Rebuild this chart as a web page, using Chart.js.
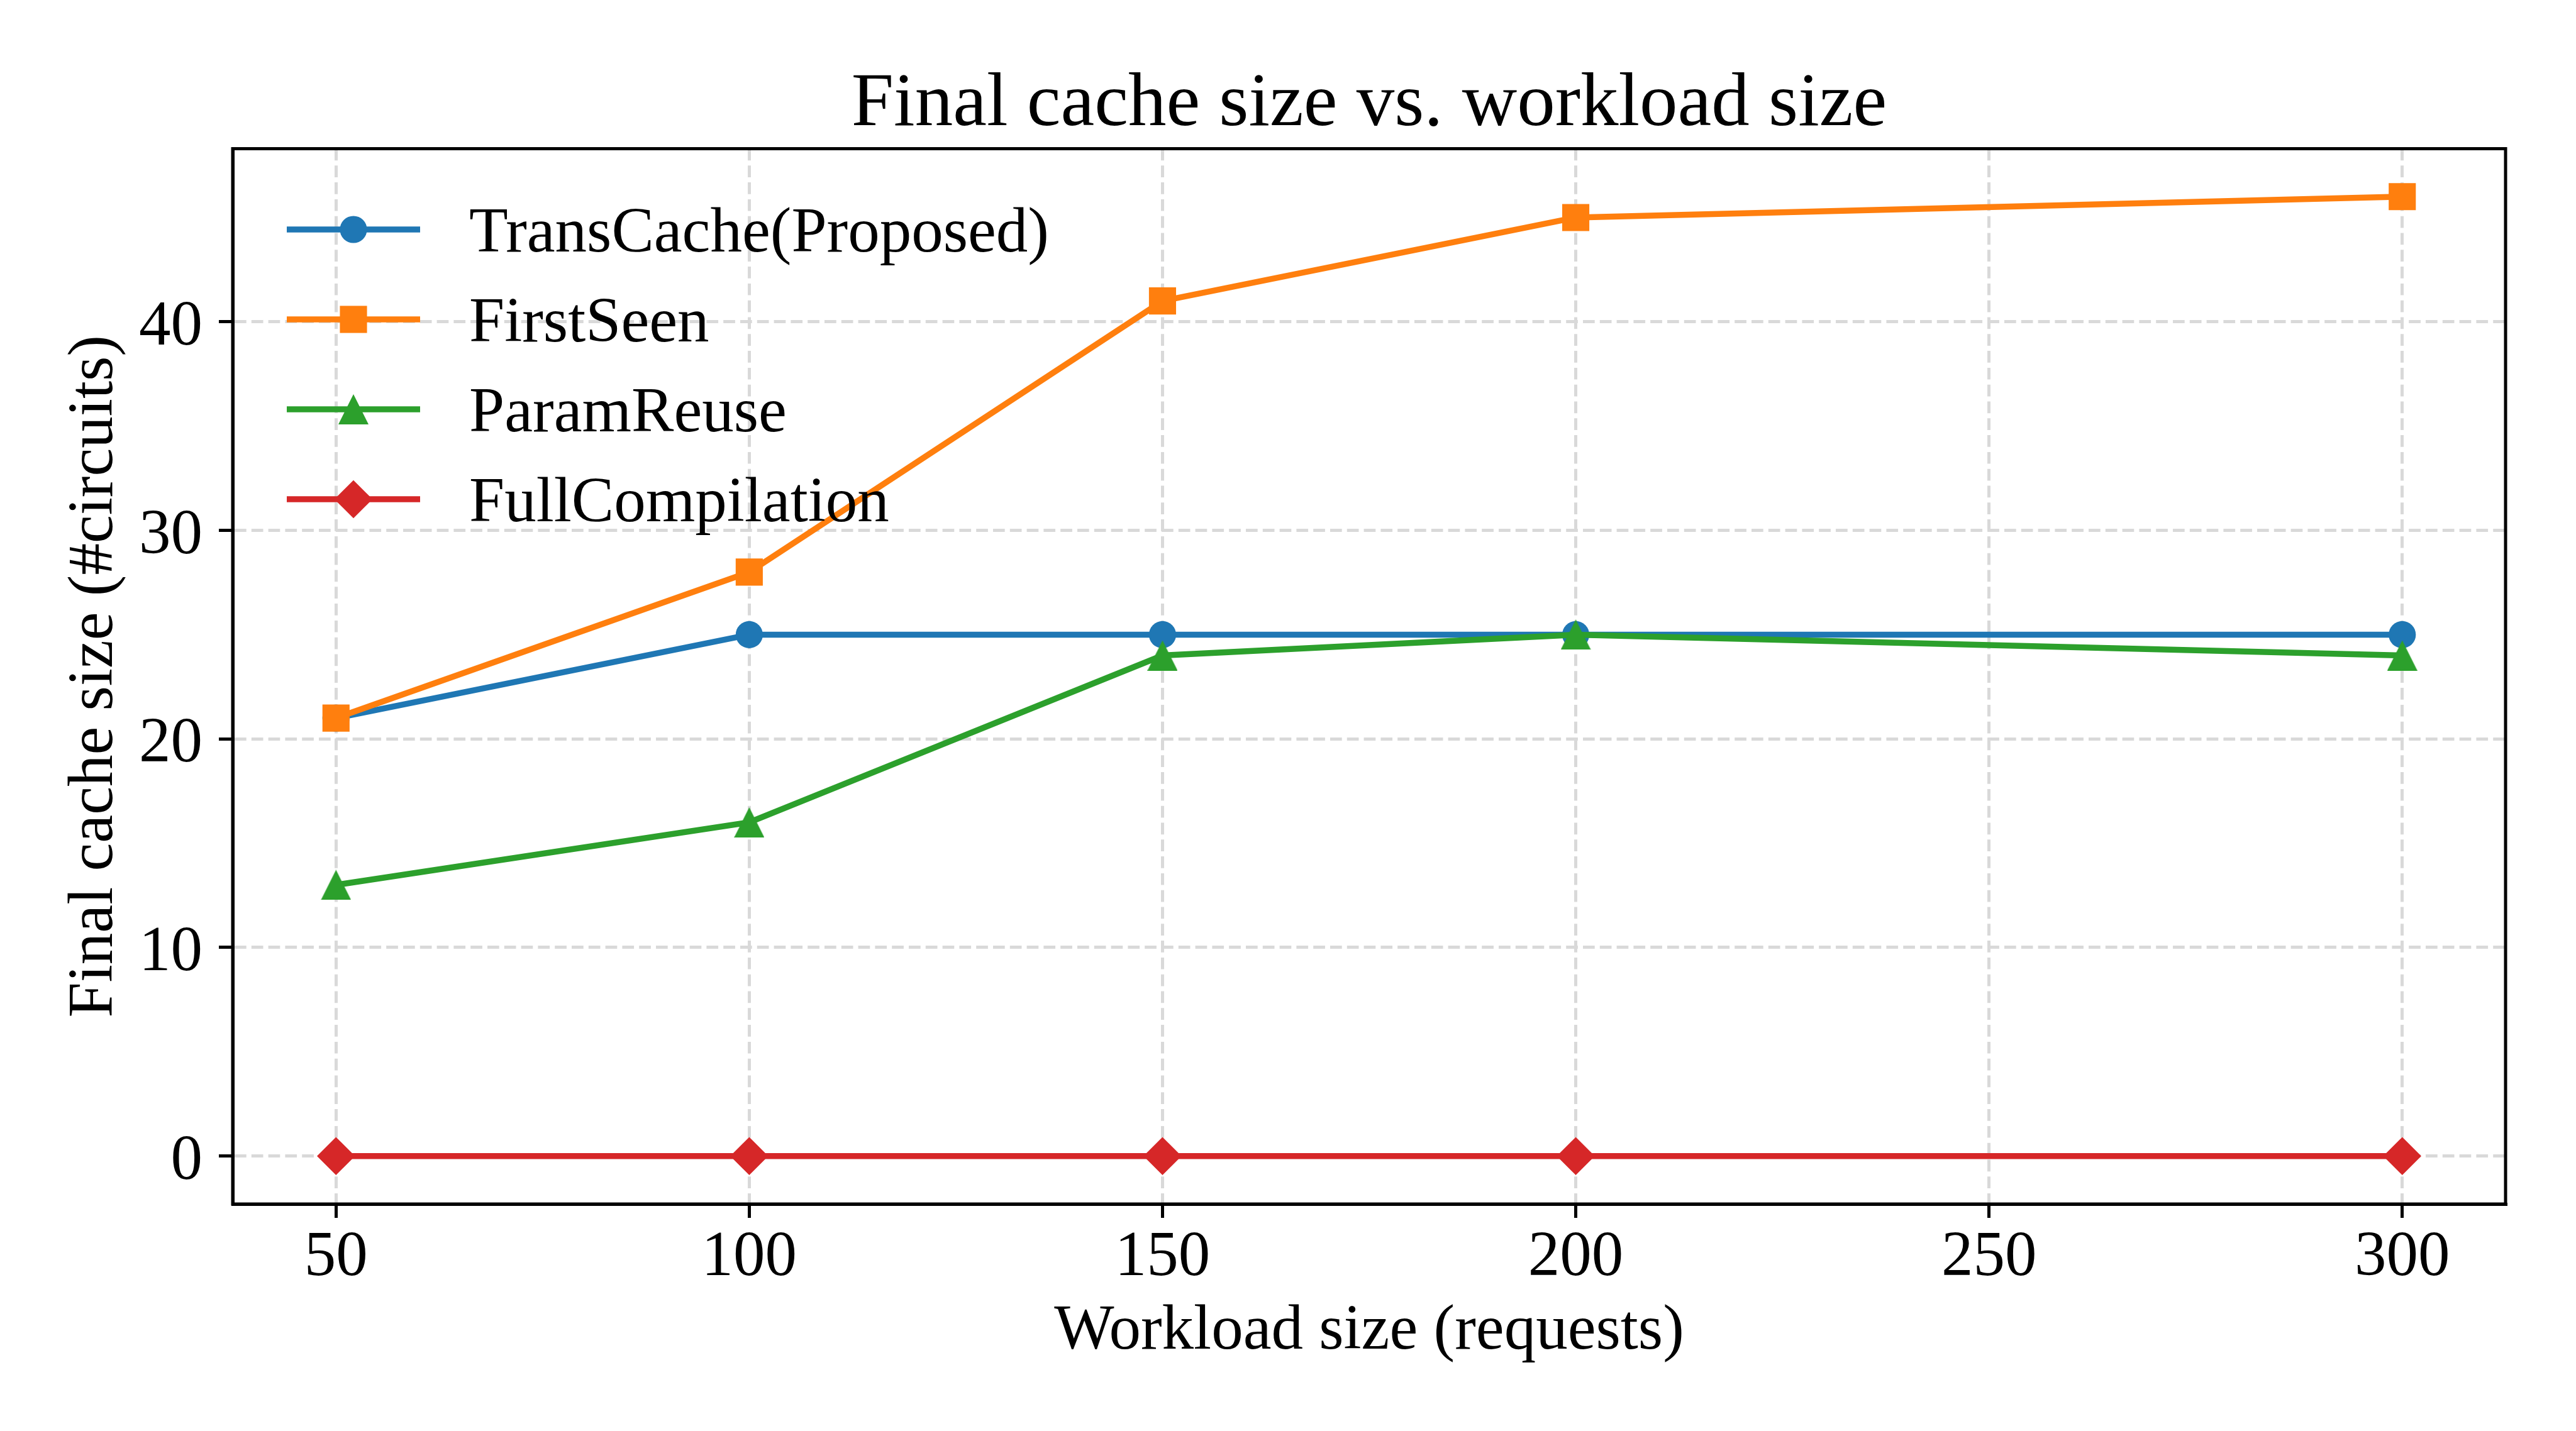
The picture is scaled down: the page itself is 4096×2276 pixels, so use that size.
<!DOCTYPE html>
<html>
<head>
<meta charset="utf-8">
<script src="https://cdn.jsdelivr.net/npm/chart.js@4/dist/chart.umd.min.js"></script>
<style>
  html, body { margin: 0; padding: 0; background: #ffffff; }
  #wrap { width: 4096px; height: 2276px; }
</style>
</head>
<body>
<div id="wrap"><canvas id="c" width="4096" height="2276"></canvas></div>
<script>
// ---------------- data ----------------
const workloadSizes   = [50, 100, 150, 200, 300];
const transCache      = [21, 25, 25, 25, 25];
const firstSeen       = [21, 28, 41, 45, 46];
const paramReuse      = [13, 16, 24, 25, 24];
const fullCompilation = [0, 0, 0, 0, 0];
const seriesNames     = ['TransCache(Proposed)', 'FirstSeen', 'ParamReuse', 'FullCompilation'];
const xTicks = [50, 100, 150, 200, 250, 300];
const yTicks = [0, 10, 20, 30, 40];
const titleText  = 'Final cache size vs. workload size';
const xLabelText = 'Workload size (requests)';
const yLabelText = 'Final cache size (#circuits)';

// ---------------- style ----------------
const FONT = "'Liberation Serif', 'Times New Roman', serif";
const COLORS = ['#1f77b4', '#ff7f0e', '#2ca02c', '#d62728'];
const LINE_W = 9.5;
const TITLE_PX = 121, TEXT_PX = 101, LH = 1.2;

// measure where canvas 'middle' sits relative to the alphabetic baseline
const mctx = document.createElement('canvas').getContext('2d');
function midAboveBaseline(px) {
  mctx.font = px + 'px ' + FONT;
  mctx.textBaseline = 'alphabetic';
  const a = mctx.measureText('Hg').fontBoundingBoxAscent;
  mctx.textBaseline = 'middle';
  const b = mctx.measureText('Hg').fontBoundingBoxAscent;
  const v = a - b;
  return (isFinite(v) && v > 0) ? v : 0.3375 * px;
}
function inkCenterBelowMiddle(px, s) {
  mctx.font = px + 'px ' + FONT;
  mctx.textBaseline = 'middle';
  const m = mctx.measureText(s);
  const v = (m.actualBoundingBoxDescent - m.actualBoundingBoxAscent) / 2;
  return isFinite(v) ? v : 0;
}
const midT = midAboveBaseline(TITLE_PX);
const midL = midAboveBaseline(TEXT_PX);

// layout targets (px in the 4096x2276 window)
const AREA_TOP = 236.5, AREA_BOTTOM = 1915, AREA_LEFT = 370, RIGHT_PAD = 112;
const TICK_LEN = 22;
const titleBaseline = 199.3;
const xTickBaseline = 2028;
const xLabelBaseline = 2145;
const yLabelBaselineX = 178;

const titlePadTop = titleBaseline - midT - TITLE_PX * LH / 2;
const titlePadBottom = AREA_TOP - titlePadTop - TITLE_PX * LH;
const xTickPad = xTickBaseline - midL - TEXT_PX * LH / 2 - (AREA_BOTTOM + TICK_LEN);
const xTitlePadBottom = 2276 - (xLabelBaseline - midL) - TEXT_PX * LH / 2;
const yTitlePadTop = (yLabelBaselineX - midL) - TEXT_PX * LH / 2;
const yTickLabelOffset = 2.7 - inkCenterBelowMiddle(TEXT_PX, '40');

// triangle marker as a canvas (centered like matplotlib '^')
function makeTriangle(size, color) {
  const c = document.createElement('canvas');
  c.width = size; c.height = size;
  const g = c.getContext('2d');
  g.fillStyle = color;
  g.beginPath();
  g.moveTo(size / 2, 0);
  g.lineTo(size, size);
  g.lineTo(0, size);
  g.closePath();
  g.fill();
  return c;
}
const triMarker = makeTriangle(48, COLORS[2]);

const pointStyles = ['circle', 'rect', triMarker, 'rectRot'];
const pointRadii  = [21.6, 30.5, 24, 30.3];

const seriesValues = [transCache, firstSeen, paramReuse, fullCompilation];

const datasets = seriesValues.map((vals, i) => ({
  label: seriesNames[i],
  data: workloadSizes.map((x, k) => ({ x: x, y: vals[k] })),
  borderColor: COLORS[i],
  backgroundColor: COLORS[i],
  pointBackgroundColor: COLORS[i],
  pointBorderColor: COLORS[i],
  pointBorderWidth: 0,
  borderWidth: LINE_W,
  pointStyle: pointStyles[i],
  pointRadius: pointRadii[i],
  fill: false,
  tension: 0,
  order: 3 - i,
  clip: false
}));

// ---------------- plugins ----------------
function drawMarker(ctx, style, r, x, y, color) {
  ctx.save();
  ctx.fillStyle = color;
  if (style && typeof style === 'object') {
    ctx.drawImage(style, x - style.width / 2, y - style.height / 2);
  } else if (style === 'circle') {
    ctx.beginPath(); ctx.arc(x, y, r, 0, Math.PI * 2); ctx.fill();
  } else if (style === 'rect') {
    const s = r * Math.SQRT1_2;
    ctx.fillRect(x - s, y - s, 2 * s, 2 * s);
  } else if (style === 'rectRot') {
    ctx.beginPath();
    ctx.moveTo(x - r, y); ctx.lineTo(x, y - r); ctx.lineTo(x + r, y); ctx.lineTo(x, y + r);
    ctx.closePath(); ctx.fill();
  }
  ctx.restore();
}

const legendPlugin = {
  id: 'mplLegend',
  afterDatasetsDraw(chart) {
    const ctx = chart.ctx;
    const rowY0 = 365, rowStep = 143;
    const lineX1 = 456, lineX2 = 668, markX = 562, textX = 746;
    chart.data.datasets.forEach((ds, i) => {
      const y = rowY0 + i * rowStep;
      ctx.save();
      ctx.strokeStyle = ds.borderColor;
      ctx.lineWidth = ds.borderWidth;
      ctx.lineCap = 'butt';
      ctx.beginPath(); ctx.moveTo(lineX1, y); ctx.lineTo(lineX2, y); ctx.stroke();
      ctx.restore();
      drawMarker(ctx, ds.pointStyle, ds.pointRadius, markX, y, ds.pointBackgroundColor);
      ctx.save();
      ctx.fillStyle = '#000000';
      ctx.font = TEXT_PX + 'px ' + FONT;
      ctx.textAlign = 'left';
      ctx.textBaseline = 'alphabetic';
      ctx.fillText(ds.label, textX, y + 35);
      ctx.restore();
    });
  }
};

const framePlugin = {
  id: 'frame',
  afterDraw(chart) {
    const a = chart.chartArea, ctx = chart.ctx;
    ctx.save();
    ctx.strokeStyle = '#000000';
    ctx.lineWidth = 5;
    ctx.setLineDash([]);
    ctx.strokeRect(a.left, a.top, a.right - a.left, a.bottom - a.top);
    ctx.restore();
  }
};

// ---------------- chart ----------------
Chart.defaults.font.family = FONT;
Chart.defaults.color = '#000000';

new Chart(document.getElementById('c'), {
  type: 'line',
  data: { datasets: datasets },
  options: {
    responsive: false,
    devicePixelRatio: 1,
    animation: false,
    events: [],
    layout: { padding: { left: 0, right: RIGHT_PAD, top: 0, bottom: 0 } },
    plugins: {
      legend: { display: false },
      tooltip: { enabled: false },
      title: {
        display: true,
        text: titleText,
        fullSize: false,
        color: '#000000',
        font: { size: TITLE_PX, weight: 'normal', family: FONT, lineHeight: LH },
        padding: { top: titlePadTop, bottom: titlePadBottom }
      }
    },
    scales: {
      x: {
        type: 'linear',
        min: 37.5,
        max: 312.5,
        afterBuildTicks: s => { s.ticks = xTicks.map(v => ({ value: v })); },
        afterFit: s => { s.height = 2276 - AREA_BOTTOM; },
        ticks: { font: { size: TEXT_PX, family: FONT, lineHeight: LH }, color: '#000000', padding: xTickPad, maxRotation: 0, autoSkip: false },
        grid: {
          color: '#d9d9d9', lineWidth: 5,
          drawTicks: true, tickLength: TICK_LEN, tickWidth: 5, tickColor: '#000000'
        },
        border: { display: true, color: '#000000', width: 5, dash: [18.7, 8.1] },
        title: {
          display: true, text: xLabelText, color: '#000000',
          font: { size: TEXT_PX, family: FONT, lineHeight: LH },
          padding: { top: 0, bottom: xTitlePadBottom }
        }
      },
      y: {
        type: 'linear',
        min: -2.3,
        max: 48.3,
        afterBuildTicks: s => { s.ticks = yTicks.map(v => ({ value: v })); },
        afterFit: s => { s.width = AREA_LEFT; },
        ticks: { font: { size: TEXT_PX, family: FONT, lineHeight: LH }, color: '#000000', padding: 26, labelOffset: yTickLabelOffset, autoSkip: false },
        grid: {
          color: '#d9d9d9', lineWidth: 5,
          drawTicks: true, tickLength: TICK_LEN, tickWidth: 5, tickColor: '#000000'
        },
        border: { display: true, color: '#000000', width: 5, dash: [18.7, 8.1] },
        title: {
          display: true, text: yLabelText, color: '#000000',
          font: { size: TEXT_PX, family: FONT, lineHeight: LH },
          padding: { top: yTitlePadTop, bottom: 0 }
        }
      }
    }
  },
  plugins: [legendPlugin, framePlugin]
});
</script>
</body>
</html>
